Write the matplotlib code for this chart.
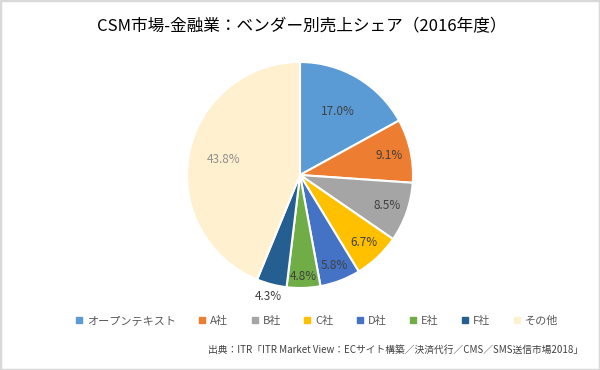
import numpy as np
import matplotlib
matplotlib.use("Agg")
import matplotlib.pyplot as plt
from matplotlib.lines import Line2D
from matplotlib.patches import Rectangle

plt.rcParams["font.family"] = ["Noto Sans CJK JP", "DejaVu Sans"]

# データ
vendors = ["オープンテキスト", "A社", "B社", "C社", "D社", "E社", "F社", "その他"]
shares = [17.0, 9.1, 8.5, 6.7, 5.8, 4.8, 4.3, 43.8]
colors = ["#5B9BD5", "#ED7D31", "#A5A5A5", "#FFC000", "#4472C4", "#70AD47", "#255E91", "#FFF0CF"]
title = "CSM市場-金融業：ベンダー別売上シェア（2016年度）"
source = "出典：ITR「ITR Market View：ECサイト構築／決済代行／CMS／SMS送信市場2018」"

# ラベル位置（半径に対する比率）
label_r = [0.65, 0.81, 0.82, 0.82, 0.86, 0.90, 1.11, 0.69]
label_c = ["#404040"] * 7 + ["#8f8f8f"]

fig = plt.figure(figsize=(6, 3.7), dpi=100)
fig.patches.append(Rectangle((0, 0), 1, 1, transform=fig.transFigure,
                             fill=False, edgecolor="#d9d9d9", linewidth=2.5))

R = 113
cx, cy = 300, 175
ax = fig.add_axes([(cx - R) / 600, (370 - cy - R) / 370, 2 * R / 600, 2 * R / 370])
wedges, _ = ax.pie(shares, colors=colors, startangle=90, counterclock=False,
                   radius=1, wedgeprops=dict(edgecolor="white", linewidth=1.5))
ax.set_xlim(-1, 1)
ax.set_ylim(-1, 1)
ax.set_aspect("equal")
ax.axis("off")

for w, v, r, c in zip(wedges, shares, label_r, label_c):
    ang = np.deg2rad((w.theta1 + w.theta2) / 2)
    ax.text(r * np.cos(ang), r * np.sin(ang), f"{v:.1f}%", ha="center", va="center",
            fontsize=8.5, color=c)

fig.text(0.503, 1 - 27 / 370, title, ha="center", va="center", fontsize=12, color="#000000")

handles = [Line2D([], [], marker="s", linestyle="none", markersize=4.5,
                  markerfacecolor=col, markeredgecolor=col) for col in colors]
fig.legend(handles, vendors, loc="center", bbox_to_anchor=(0.528, 1 - 321 / 370),
           ncol=8, frameon=False, fontsize=8, handlelength=0.6, handletextpad=0.4,
           columnspacing=2.1, labelcolor="#595959")

fig.text(583 / 600, 1 - 350 / 370, source, ha="right", va="center", fontsize=7, color="#404040")

fig.savefig("out.png", dpi=100)
